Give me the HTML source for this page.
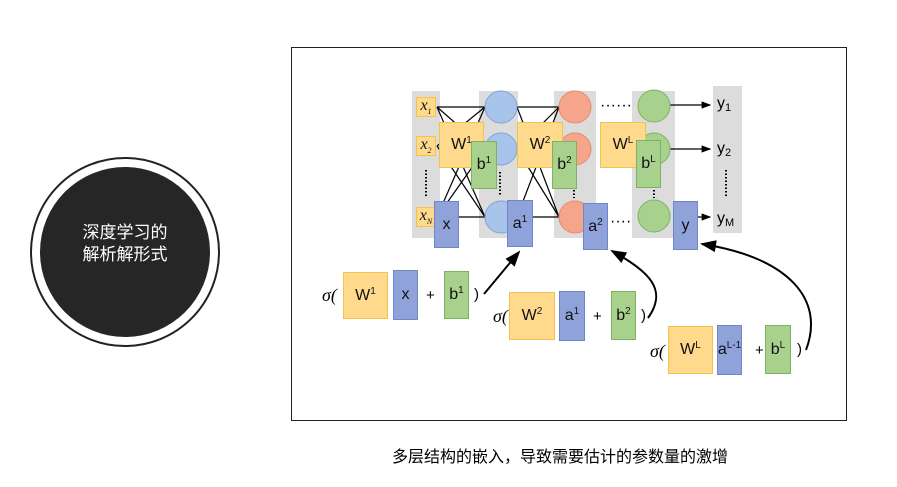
<!DOCTYPE html>
<html><head><meta charset="utf-8"><style>
body{margin:0;width:897px;height:487px;background:#fff;position:relative;overflow:hidden;font-family:"Liberation Sans","Noto Sans CJK SC",sans-serif}
.a{position:absolute;box-sizing:border-box}
.Y{background:#ffd98c;border:1px solid #f2c24a}
.B{background:#8fa3da;border:1px solid #6f86c9}
.G{background:#a9d18e;border:1px solid #7db35e}
.t{display:flex;align-items:center;justify-content:center;font-size:16px;color:#111}
.t span{display:inline-block;white-space:nowrap}
sup{font-size:10px;vertical-align:6px;line-height:0}
.s{position:absolute;font-family:"Liberation Serif",serif;font-size:18px;font-style:italic}
.p{position:absolute;font-size:15px}
</style></head><body>
<div class="a" style="left:30px;top:157px;width:190px;height:190px;border-radius:50%;border:2px solid #222"></div>
<div class="a" style="left:40px;top:167px;width:170px;height:170px;border-radius:50%;background:#262626"></div>
<div class="a" style="left:40px;top:222px;width:170px;text-align:center;color:#fff;font-size:17px;line-height:22px">深度学习的<br>解析解形式</div>
<div class="a" style="left:291px;top:47px;width:556px;height:374px;border:1px solid #222"></div>
<div class="a" style="left:300px;top:443px;width:520px;text-align:center;font-size:16px">多层结构的嵌入，导致需要估计的参数量的激增</div>

<div class="a" style="left:412px;top:91px;width:28px;height:147px;background:#dcdcdc"></div>
<div class="a" style="left:479px;top:91px;width:39px;height:147px;background:#dcdcdc"></div>
<div class="a" style="left:554px;top:91px;width:42px;height:147px;background:#dcdcdc"></div>
<div class="a" style="left:632px;top:91px;width:43px;height:147px;background:#dcdcdc"></div>
<div class="a" style="left:713px;top:86px;width:29px;height:147px;background:#dcdcdc"></div>

<svg class="a" style="left:0;top:0" width="897" height="487">
<defs><marker id="m" markerWidth="8" markerHeight="8" refX="7" refY="4" orient="auto"><path d="M0,1 L8,4 L0,7z" fill="#000"/></marker></defs>
<g stroke="#000" stroke-width="1.2">
<line x1="437" y1="107" x2="485" y2="107"/><line x1="437" y1="107" x2="485" y2="149"/><line x1="437" y1="107" x2="485" y2="217"/>
<line x1="437" y1="146" x2="485" y2="107"/><line x1="437" y1="146" x2="485" y2="217"/>
<line x1="437" y1="217" x2="485" y2="107"/><line x1="437" y1="217" x2="485" y2="149"/><line x1="437" y1="217" x2="485" y2="217"/>
<line x1="517" y1="107" x2="559" y2="107"/><line x1="517" y1="107" x2="559" y2="217"/><line x1="517" y1="149" x2="559" y2="107"/>
<line x1="517" y1="149" x2="559" y2="217"/><line x1="517" y1="217" x2="559" y2="107"/><line x1="517" y1="217" x2="559" y2="217"/>
<line x1="670" y1="105" x2="710" y2="105" marker-end="url(#m)"/>
<line x1="670" y1="149" x2="710" y2="149" marker-end="url(#m)"/>
<line x1="698" y1="217" x2="710" y2="217" marker-end="url(#m)"/>
</g>
<g stroke-width="1">
<circle cx="501" cy="107" r="16" fill="#a9c4eb" stroke="#7fa3d6"/><circle cx="501" cy="149" r="16" fill="#a9c4eb" stroke="#7fa3d6"/><circle cx="501" cy="217" r="16" fill="#a9c4eb" stroke="#7fa3d6"/>
<circle cx="575" cy="107" r="16" fill="#f4a58a" stroke="#e78a6a"/><circle cx="575" cy="149" r="16" fill="#f4a58a" stroke="#e78a6a"/><circle cx="575" cy="217" r="16" fill="#f4a58a" stroke="#e78a6a"/>
<circle cx="654" cy="106" r="16" fill="#a9d18e" stroke="#7db35e"/><circle cx="654" cy="149" r="16" fill="#a9d18e" stroke="#7db35e"/><circle cx="654" cy="216" r="16" fill="#a9d18e" stroke="#7db35e"/>
</g>
<g stroke="#000" stroke-width="2" fill="none">
<line x1="484" y1="294" x2="519" y2="252" marker-end="url(#m)"/>
<path d="M648,318 C668,290 650,272 612,251" marker-end="url(#m)"/>
<path d="M806,350 C825,300 790,258 702,244" marker-end="url(#m)"/>
</g>
<g font-size="16" fill="#000" font-family="Liberation Sans">
<text x="600" y="110">······</text><text x="610" y="226">····</text>
<text x="717" y="108">y<tspan font-size="11" dy="3">1</tspan></text>
<text x="717" y="153">y<tspan font-size="11" dy="3">2</tspan></text>
<text x="717" y="223">y<tspan font-size="11" dy="3">M</tspan></text>
</g>
<g stroke="#000" stroke-width="2" stroke-dasharray="1.5,2">
<line x1="426" y1="170" x2="426" y2="196"/><line x1="500" y1="172" x2="500" y2="196"/><line x1="726" y1="170" x2="726" y2="196"/>
<line x1="574" y1="190" x2="574" y2="198"/><line x1="654" y1="190" x2="654" y2="198"/>
</g>
</svg>

<div class="a Y t" style="left:416px;top:97px;width:20px;height:20px;font-family:'Liberation Serif';font-style:italic"><span>x<sub style="font-size:8px">1</sub></span></div>
<div class="a Y t" style="left:416px;top:136px;width:20px;height:20px;font-family:'Liberation Serif';font-style:italic"><span>x<sub style="font-size:8px">2</sub></span></div>
<div class="a Y t" style="left:416px;top:207px;width:20px;height:20px;font-family:'Liberation Serif';font-style:italic"><span>x<sub style="font-size:8px">N</sub></span></div>

<div class="a Y t" style="left:439px;top:122px;width:45px;height:46px"><span>W<sup>1</sup></span></div>
<div class="a G t" style="left:471px;top:141px;width:26px;height:48px"><span>b<sup>1</sup></span></div>
<div class="a B t" style="left:434px;top:201px;width:25px;height:47px"><span>x</span></div>
<div class="a B t" style="left:507px;top:200px;width:26px;height:47px"><span>a<sup>1</sup></span></div>
<div class="a Y t" style="left:517px;top:122px;width:46px;height:46px"><span>W<sup>2</sup></span></div>
<div class="a G t" style="left:552px;top:141px;width:25px;height:48px"><span>b<sup>2</sup></span></div>
<div class="a B t" style="left:583px;top:203px;width:25px;height:47px"><span>a<sup>2</sup></span></div>
<div class="a Y t" style="left:600px;top:122px;width:46px;height:46px"><span>W<sup>L</sup></span></div>
<div class="a G t" style="left:636px;top:140px;width:25px;height:48px"><span>b<sup>L</sup></span></div>
<div class="a B t" style="left:673px;top:201px;width:25px;height:49px"><span>y</span></div>

<div class="s" style="left:322px;top:285px">σ(</div>
<div class="a Y t" style="left:343px;top:272px;width:45px;height:47px"><span>W<sup>1</sup></span></div>
<div class="a B t" style="left:393px;top:270px;width:25px;height:50px"><span>x</span></div>
<div class="p" style="left:426px;top:287px">+</div>
<div class="a G t" style="left:444px;top:271px;width:25px;height:48px"><span>b<sup>1</sup></span></div>
<div class="p" style="left:474px;top:286px">)</div>

<div class="s" style="left:493px;top:306px">σ(</div>
<div class="a Y t" style="left:509px;top:292px;width:46px;height:48px"><span>W<sup>2</sup></span></div>
<div class="a B t" style="left:559px;top:291px;width:26px;height:50px"><span>a<sup>1</sup></span></div>
<div class="p" style="left:593px;top:308px">+</div>
<div class="a G t" style="left:611px;top:291px;width:25px;height:49px"><span>b<sup>2</sup></span></div>
<div class="p" style="left:641px;top:307px">)</div>

<div class="s" style="left:650px;top:341px">σ(</div>
<div class="a Y t" style="left:668px;top:326px;width:45px;height:48px"><span>W<sup>L</sup></span></div>
<div class="a B t" style="left:717px;top:325px;width:25px;height:50px"><span>a<sup>L-1</sup></span></div>
<div class="p" style="left:755px;top:342px">+</div>
<div class="a G t" style="left:765px;top:325px;width:26px;height:49px"><span>b<sup>L</sup></span></div>
<div class="p" style="left:797px;top:341px">)</div>
</body></html>
